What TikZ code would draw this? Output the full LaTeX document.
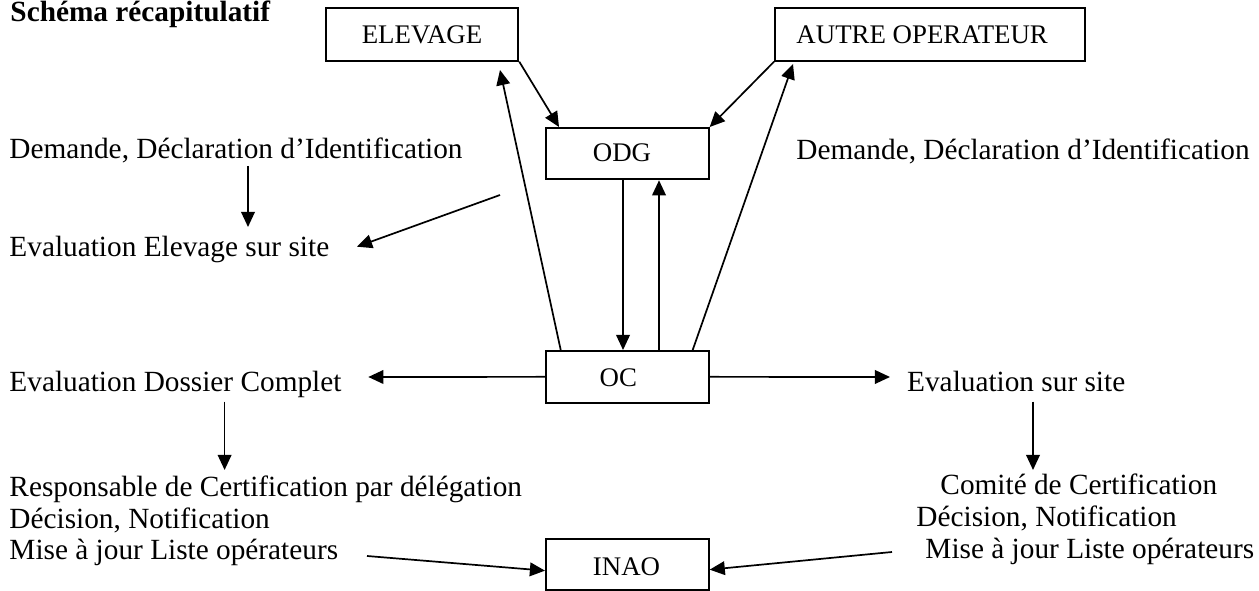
\documentclass[tikz,border=0pt]{standalone}
\usepackage{fontspec}
\setmainfont{Liberation Serif}
\usetikzlibrary{arrows.meta,calc,fit}
\begin{document}
\begin{tikzpicture}[x=0.4096pt,y=-0.4096pt,
  box/.style={draw,line width=0.8pt,inner sep=0pt,fit={#1}},
  lbl/.style={inner sep=0pt,anchor=base west,font=\fontsize{12}{14}\selectfont},
  blbl/.style={inner sep=0pt,anchor=base,font=\fontsize{11}{13}\selectfont},
  arr/.style={line width=0.7pt,-{Triangle[length=6.2pt,width=5.6pt]}}]
\useasboundingbox (0,0) rectangle (1259,591);

% boxes
\node[box={(326,8.3) (518.3,60.7)}] (elev) {};
\node[box={(775,8.3) (1085,60.7)}] (autre) {};
\node[box={(546,128) (708.7,179.3)}] (odg) {};
\node[box={(546,351) (708.7,402.7)}] (oc) {};
\node[box={(546,539.3) (708.7,590)}] (inao) {};

% box texts
\node[blbl] (elevt) at (422,44) {ELEVAGE};
\node[blbl,anchor=base west] (autret) at (796,44) {AUTRE OPERATEUR};
\node[blbl] (odgt) at (622,161.7) {ODG};
\node[blbl] (oct) at (618.3,387) {OC};
\node[blbl] (inaot) at (626.5,575.3) {INAO};

% title
\node[lbl,font=\bfseries\fontsize{12}{14}\selectfont] (title) at (10,21.7) {Schéma récapitulatif};

% left texts
\node[lbl] (dem1) at (9,159) {Demande, Déclaration d’Identification};
\node[lbl] (evel) at (9,256.7) {Evaluation Elevage sur site};
\node[lbl] (evdc) at (9,391.7) {Evaluation Dossier Complet};
\node[lbl] (resp) at (9,496.7) {Responsable de Certification par délégation};
\node[lbl] (dec1) at (9,528.3) {Décision, Notification};
\node[lbl] (maj1) at (9,560) {Mise à jour Liste opérateurs};

% right texts
\node[lbl] (dem2) at (796,160) {Demande, Déclaration d’Identification};
\node[lbl] (evs) at (906.7,391.7) {Evaluation sur site};
\node[lbl] (com) at (940,495) {Comité de Certification};
\node[lbl] (dec2) at (916,526.7) {Décision, Notification};
\node[lbl] (maj2) at (925,559) {Mise à jour Liste opérateurs};

% free ends
\coordinate (e1) at (500,70);
\coordinate (a1) at (793,64);
\coordinate (c1) at (368.3,377);
\coordinate (c2) at (890,377);
\coordinate (d1s) at (248,166);
\coordinate (d1e) at (248,227);
\coordinate (l1s) at (500,195);
\coordinate (l1e) at (357,246.7);
\coordinate (d2s) at (224.6,401.7);
\coordinate (d2e) at (224.6,470);
\coordinate (d3s) at (1033,401.7);
\coordinate (d3e) at (1033,470);
\coordinate (m1) at (367,556);
\coordinate (m2) at (892,552);

% connectors
\draw[arr] (elev.south east) -- ($(odg.north west)+(14,0)$);
\draw[arr] ($(oc.north west)+(15.7,0)$) -- (e1);
\draw[arr] (autre.south west) -- (odg.north east);
\draw[arr] ($(oc.north east)+(-17,0)$) -- (a1);
\draw[arr] ($(odg.south west)+(78,0)$) -- ($(oc.north west)+(78,0)$);
\draw[arr] ($(oc.north west)+(114,0)$) -- ($(odg.south west)+(114,0)$);
\draw[arr] (oc.west) -- (c1);
\draw[arr] (oc.east) -- (c2);
\draw[arr] (d1s) -- (d1e);
\draw[arr] (l1s) -- (l1e);
\draw[arr] (d2s) -- (d2e);
\draw[arr] (d3s) -- (d3e);
\draw[arr] (m1) -- ($(inao.west)+(0,6)$);
\draw[arr] (m2) -- ($(inao.east)+(0,5)$);
\end{tikzpicture}
\end{document}
